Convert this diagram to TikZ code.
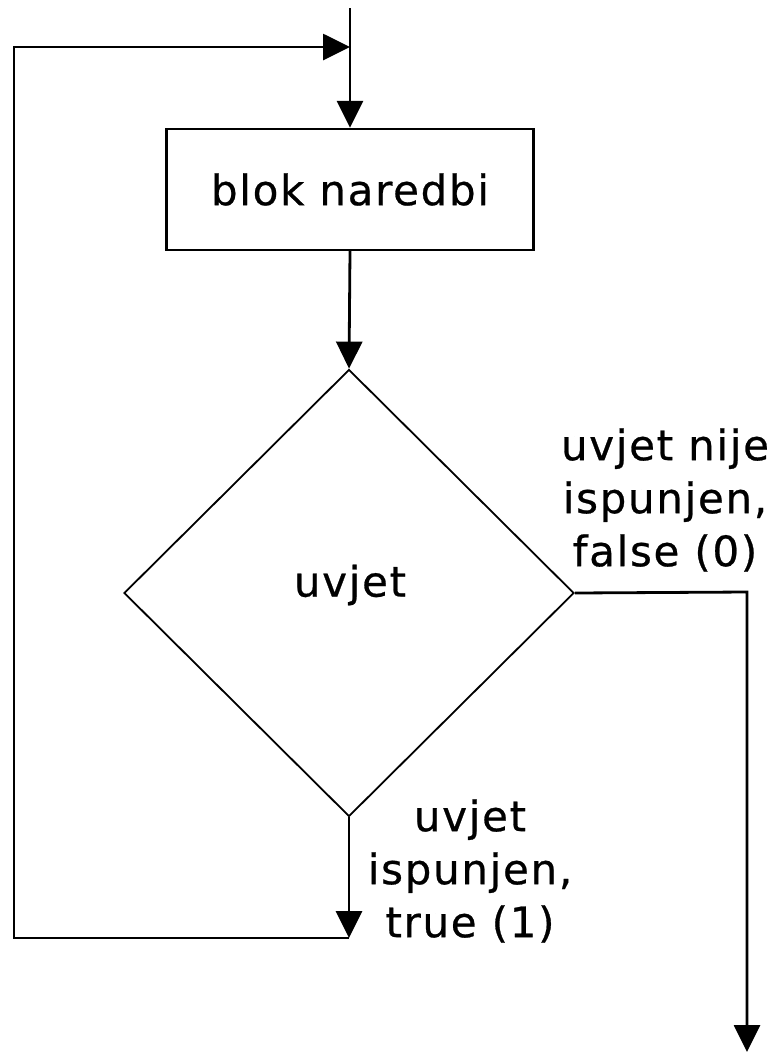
\documentclass[tikz,border=0pt]{standalone}
\usepackage{fontspec}
\setmainfont{DejaVu Sans}[LetterSpace=4,FakeBold=0.6]
\usetikzlibrary{shapes.geometric,arrows.meta}
\begin{document}
\begin{tikzpicture}[x=1pt,y=-1pt,
  every node/.style={font=\fontsize{42}{53}\selectfont},
  line/.style={line width=2.8pt,draw=black},
  arr/.style={line,-{Triangle[length=27pt,width=26pt]}},
  procbox/.style={draw=black,line width=2.4pt,rectangle,minimum width=367pt,minimum height=121pt,inner sep=0pt},
  decision/.style={draw=black,line width=1.8pt,diamond,aspect=1.007,minimum width=450pt,minimum height=447pt,inner sep=0pt},
  lbl/.style={align=center,inner sep=0pt}]
\useasboundingbox (0,0) rectangle (777,1053);
\fill[white] (0,0) rectangle (777,1053);
\coordinate (start) at (350,8);
\coordinate (join) at (350,47);
\node[procbox] (blok) at (350,189.5) {blok naredbi};
\node[decision] (uvjet) at (349,593) {};
\node at (350,585) (uvjettxt) {uvjet};
\coordinate (bot) at (349,938);
\coordinate (leftbot) at (14,938);
\coordinate (rightturn) at (747,592);
\coordinate (endpt) at (747,1052);
\node[lbl] (falselbl) at (665,500) {uvjet nije\\ispunjen,\\false (0)};
\node[lbl] (truelbl) at (470,871) {uvjet\\ispunjen,\\true (1)};
\draw[arr] (start) -- (blok.north);
\draw[arr] (blok.south) -- (uvjet.north);
\draw[arr] (uvjet.south) -- (bot);
\draw[arr] (bot) -- (leftbot) |- (join);
\draw[arr] (uvjet.east) -- (rightturn) -- (endpt);
\end{tikzpicture}
\end{document}
